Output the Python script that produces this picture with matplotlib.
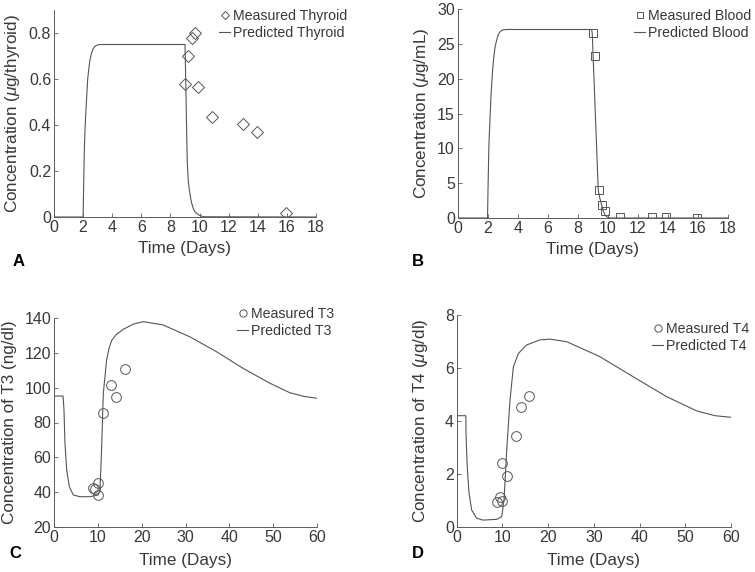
import matplotlib
matplotlib.use("Agg")
import matplotlib.pyplot as plt

plt.rcParams['font.family'] = ['Liberation Sans', 'DejaVu Sans']
plt.rcParams['mathtext.fontset'] = 'custom'
plt.rcParams['mathtext.it'] = 'Liberation Sans:italic'
plt.rcParams['mathtext.rm'] = 'Liberation Sans'

# ---------------- data ----------------
thy_meas_t = [9.0, 9.23, 9.46, 9.69, 9.9, 10.86, 13.0, 13.94, 15.96]
thy_meas_y = [0.578, 0.699, 0.778, 0.80, 0.565, 0.433, 0.406, 0.368, 0.016]
thy_pred_t = [0, 2.0, 2.02, 2.08, 2.13, 2.2, 2.31, 2.4, 2.47, 2.58, 2.7, 2.85, 3.04, 3.3,
              9.0, 9.03, 9.07, 9.12, 9.16, 9.22, 9.3, 9.38, 9.46, 9.56, 9.68, 9.85, 10.03, 10.3, 18]
thy_pred_y = [0, 0, 0.08, 0.28, 0.378, 0.47, 0.596, 0.65, 0.683, 0.713, 0.733, 0.744, 0.749, 0.75,
              0.75, 0.66, 0.523, 0.35, 0.233, 0.16, 0.117, 0.085, 0.06, 0.038, 0.023, 0.013, 0.006, 0.001, 0]

bl_meas_t = [9.0, 9.16, 9.42, 9.64, 9.84, 10.84, 12.96, 13.9, 15.96]
bl_meas_y = [26.6, 23.3, 4.02, 1.82, 1.0, 0.14, 0.14, 0.1, 0.0]
bl_pred_t = [0, 1.99, 2.02, 2.08, 2.15, 2.23, 2.33, 2.41, 2.49, 2.6, 2.71, 2.85, 3.04, 3.3,
             8.93, 8.97, 9.17, 9.37, 9.48, 9.6, 9.71, 9.82, 9.95, 10.15, 18]
bl_pred_y = [0, 0, 4, 10.5, 14.1, 18, 21.3, 23.2, 24.6, 25.6, 26.4, 26.85, 27.05, 27.1,
             27.1, 26.5, 15.3, 4.0, 2.8, 1.87, 1.0, 0.43, 0.15, 0.0, 0]

t3_meas_t = [9.0, 9.4, 9.97, 10.1, 11.1, 13.1, 14.1, 16.1]
t3_meas_y = [42.2, 41.9, 38.5, 45.2, 85.3, 101.3, 94.4, 110.6]
t3_pred_t = [0, 2.05, 2.15, 2.28, 2.5, 2.9, 3.5, 4.4, 5.9, 8.2, 10.1, 10.5, 10.9, 11.25, 12.0,
             12.6, 13.2, 14.2, 15.8, 18.1, 20.4, 24.9, 31, 37.1, 43.2, 49.3, 53.8, 57, 60]
t3_pred_y = [95.2, 95.2, 92, 87, 68, 52.7, 43.1, 38.4, 37.4, 37.4, 38.4, 41.2, 68, 96.7, 115.9,
             123.0, 127.3, 130.5, 133.5, 136.5, 137.9, 136, 129.2, 120.6, 111, 102.5, 97.1, 95, 93.9]

t4_meas_t = [8.9, 9.4, 9.9, 9.95, 10.95, 12.97, 14.0, 15.9]
t4_meas_y = [0.93, 1.14, 0.99, 2.42, 1.94, 3.42, 4.52, 4.93]
t4_pred_t = [0, 2.0, 2.03, 2.3, 2.7, 3.28, 4.37, 5.8, 8.75, 9.84, 10.35, 10.94, 11.66, 12.4,
             13.5, 15.3, 18.2, 20.4, 24.1, 31.3, 38.6, 45.9, 52.5, 56.5, 60]
t4_pred_y = [4.2, 4.2, 3.54, 2.28, 1.27, 0.64, 0.33, 0.26, 0.29, 0.39, 1.02, 2.9, 4.79, 6.05,
             6.55, 6.87, 7.06, 7.09, 6.99, 6.43, 5.67, 4.92, 4.38, 4.2, 4.14]

TEXT = '#383838'
AXC = '#5a5a5a'
LINE = '#555555'

W, H = 755, 572
fig = plt.figure(figsize=(W / 100, H / 100), dpi=100)

def px_axes(l, r, t, b):
    ax = fig.add_axes([l / W, 1 - b / H, (r - l) / W, (b - t) / H])
    ax._px = (l, r, t, b)
    return ax

def style(ax, xlim, xt, ylim, yt, xlabel, ylabel, xl_y, yl_x):
    l, r, t, b = ax._px
    ax.set_xlim(*xlim)
    ax.set_ylim(*ylim)
    ax.set_xticks(xt)
    ax.set_yticks(yt)
    for s in ['top', 'right']:
        ax.spines[s].set_visible(False)
    for s in ['left', 'bottom']:
        ax.spines[s].set_color(AXC)
        ax.spines[s].set_linewidth(0.7)
    ax.tick_params(direction='in', length=3, width=0.6, color=AXC,
                   labelsize=11.5, labelcolor=TEXT, pad=2)
    ax.set_xlabel(xlabel, fontsize=12.3, color=TEXT)
    ax.set_ylabel(ylabel, fontsize=12.3, color=TEXT)
    ax.xaxis.set_label_coords(0.5, (b - xl_y) / (b - t))
    ax.xaxis.label.set_va('center')
    ax.yaxis.set_label_coords((yl_x - l) / (r - l), 0.5)
    ax.yaxis.label.set_va('center')

def legend(ax, x, y, labels):
    leg = ax.legend(labels, loc='upper left', bbox_to_anchor=(x / W, 1 - y / H),
                    bbox_transform=fig.transFigure, frameon=False, fontsize=10.2,
                    borderpad=0, borderaxespad=0, handlelength=0.8, handletextpad=0.2,
                    labelspacing=0.2, labelcolor=TEXT, markerscale=0.75)
    return leg

# Panel A
axA = px_axes(54, 316, 10, 217)
axA.plot(thy_meas_t, thy_meas_y, linestyle='none', marker='D', markersize=6,
         markerfacecolor='none', markeredgecolor=LINE, markeredgewidth=0.7)
axA.plot(thy_pred_t, thy_pred_y, color=LINE, linewidth=0.8)
style(axA, (0, 18), range(0, 19, 2), (0, 0.9), [0, 0.2, 0.4, 0.6, 0.8],
      'Time (Days)', r'Concentration ($\mu$g/thyroid)', 249, 12)
axA.set_yticklabels(['0', '0.2', '0.4', '0.6', '0.8'])
legend(axA, 219, 9, ['Measured Thyroid', 'Predicted Thyroid'])

# Panel B
axB = px_axes(457.7, 727.7, 9.3, 218)
axB.plot(bl_meas_t, bl_meas_y, linestyle='none', marker='s', markersize=5.5,
         markerfacecolor='none', markeredgecolor=LINE, markeredgewidth=0.7)
axB.plot(bl_pred_t, bl_pred_y, color=LINE, linewidth=0.8)
style(axB, (0, 18), range(0, 19, 2), (0, 30), range(0, 31, 5),
      'Time (Days)', r'Concentration ($\mu$g/mL)', 250, 422)
legend(axB, 634, 9, ['Measured Blood', 'Predicted Blood'])

# Panel C
axC = px_axes(54, 317, 318, 527)
axC.plot(t3_meas_t, t3_meas_y, linestyle='none', marker='o', markersize=7,
         markerfacecolor='none', markeredgecolor=LINE, markeredgewidth=0.7)
axC.plot(t3_pred_t, t3_pred_y, color=LINE, linewidth=0.8)
style(axC, (0, 60), range(0, 61, 10), (20, 140), range(20, 141, 20),
      'Time (Days)', 'Concentration of T3 (ng/dl)', 560, 10)
legend(axC, 237, 307, ['Measured T3', 'Predicted T3'])

# Panel D
axD = px_axes(456.7, 731, 315, 527)
axD.plot(t4_meas_t, t4_meas_y, linestyle='none', marker='o', markersize=7,
         markerfacecolor='none', markeredgecolor=LINE, markeredgewidth=0.7)
axD.plot(t4_pred_t, t4_pred_y, color=LINE, linewidth=0.8)
style(axD, (0, 60), range(0, 61, 10), (0, 8), range(0, 9, 2),
      'Time (Days)', r'Concentration of T4 ($\mu$g/dl)', 560, 420)
legend(axD, 652, 322, ['Measured T4', 'Predicted T4'])

# panel letters
for lab, x, y in [('A', 19, 262), ('B', 418, 261), ('C', 15, 554), ('D', 418, 554)]:
    fig.text(x / W, 1 - y / H, lab, fontsize=12, fontweight='bold', color='black',
             ha='center', va='center')

fig.savefig('out.png', dpi=100)
